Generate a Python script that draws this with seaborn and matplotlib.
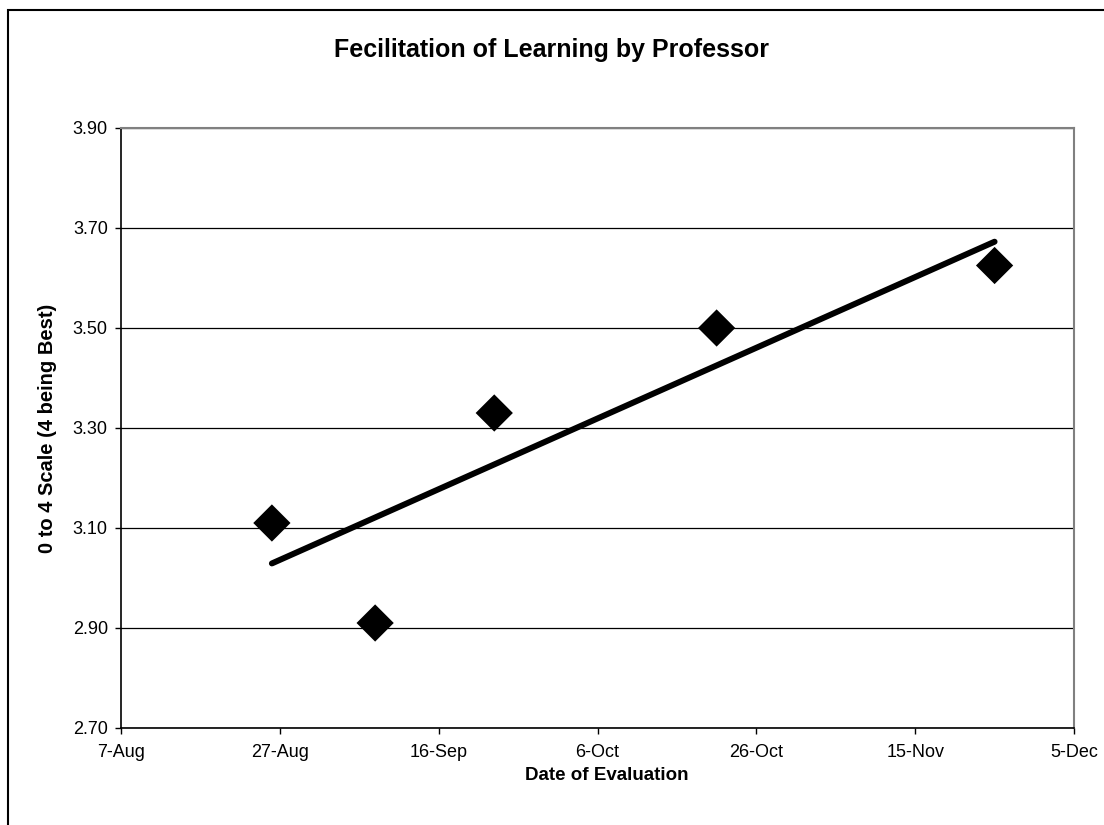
import numpy as np
import pandas as pd
import matplotlib
matplotlib.use("Agg")
import matplotlib.pyplot as plt
import matplotlib.dates as mdates
from matplotlib.patches import Rectangle
import seaborn as sns

# data
eval_dates = ["2006-08-26", "2006-09-08", "2006-09-23", "2006-10-21", "2006-11-25"]
scores = [3.11, 2.91, 3.33, 3.50, 3.625]
x_ticks = pd.date_range("2006-08-07", periods=7, freq="20D")
y_ticks = [2.70, 2.90, 3.10, 3.30, 3.50, 3.70, 3.90]

df = pd.DataFrame({"date": mdates.date2num(pd.to_datetime(eval_dates)), "score": scores})

sns.set_style("white")
plt.rcParams["font.family"] = ["Liberation Sans", "DejaVu Sans"]
plt.rcParams["text.color"] = "black"
plt.rcParams["axes.labelcolor"] = "black"

fig = plt.figure(figsize=(11.04, 8.25), dpi=100)
ax = fig.add_axes([121 / 1104, 1 - 728 / 825, (1074 - 121) / 1104, 600 / 825])

# trendline
sns.regplot(data=df, x="date", y="score", scatter=False, ci=None, truncate=True,
            color="black", line_kws={"linewidth": 4.3, "solid_capstyle": "round"}, ax=ax)
sns.scatterplot(data=df, x="date", y="score", marker="D", s=360, color="black",
                edgecolor="none", ax=ax, zorder=3)

ax.set_xlim(mdates.date2num(x_ticks[0]), mdates.date2num(x_ticks[-1]))
ax.set_ylim(2.70, 3.90)
ax.set_xticks(mdates.date2num(x_ticks))
ax.xaxis.set_major_formatter(mdates.DateFormatter("%-d-%b"))
ax.set_yticks(y_ticks)
ax.set_yticklabels([f"{v:.2f}" for v in y_ticks])
ax.yaxis.grid(True, color="black", linewidth=0.9)
ax.set_axisbelow(True)

for side in ["top", "right"]:
    ax.spines[side].set_color("#808080")
    ax.spines[side].set_linewidth(1.5)
for side in ["left", "bottom"]:
    ax.spines[side].set_color("black")
    ax.spines[side].set_linewidth(1.2)

ax.tick_params(axis="both", direction="out", length=4.5, width=1, color="black",
               labelsize=13, labelcolor="black", bottom=True, left=True)
ax.tick_params(axis="x", pad=7)
ax.tick_params(axis="y", pad=5)

ax.set_xlabel("Date of Evaluation", fontsize=13.5, fontweight="bold")
ax.set_ylabel("0 to 4 Scale (4 being Best)", fontsize=14.5, fontweight="bold")
ax.xaxis.set_label_coords((607 - 121) / 953, -(767 - 728) / 600)
ax.yaxis.set_label_coords(-(121 - 57) / 953, 0.5)

fig.text(0.5, 1 - 50 / 825, "Fecilitation of Learning by Professor", ha="center", va="center",
         fontsize=18, fontweight="bold")

# chart area frame
fig.patches.append(Rectangle((8 / 1104, -0.2), 1.5, 1.2 - 10 / 825, transform=fig.transFigure,
                             fill=False, edgecolor="black", linewidth=1.5))

fig.savefig("out.png", dpi=100)
